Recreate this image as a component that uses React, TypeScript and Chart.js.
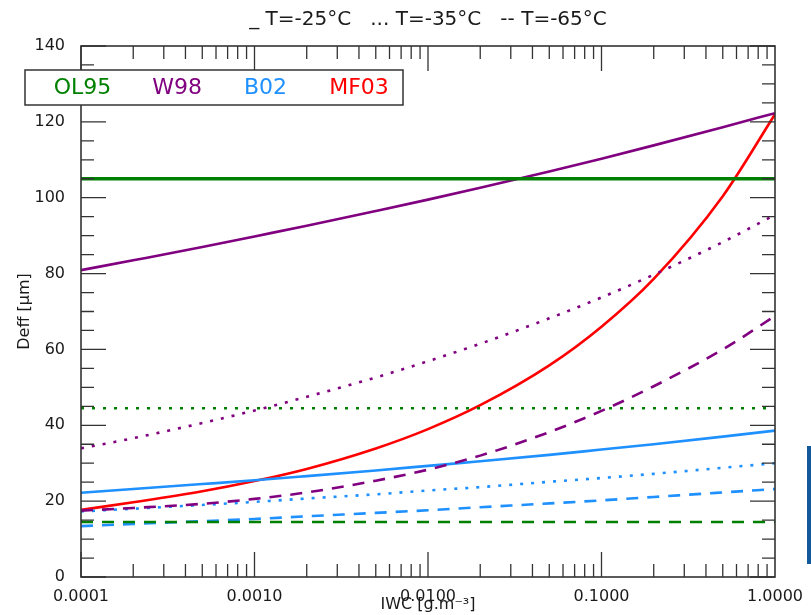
import React, { useEffect, useRef } from "react";
import { Chart, registerables } from "chart.js";

Chart.register(...registerables);

// ---------- data ----------
const IWC = [0.0001, 0.0002, 0.0005, 0.001, 0.002, 0.005, 0.01, 0.02, 0.05, 0.1, 0.2, 0.5, 1];
const IWC_ENDS = [0.0001, 1];

const OL95_T25 = [105, 105];
const OL95_T35 = [44.5, 44.5];
const OL95_T65 = [14.5, 14.5];
const W98_T25 = [80.9, 83.5, 87.0, 89.8, 92.6, 96.5, 99.5, 102.6, 106.9, 110.3, 113.8, 118.6, 122.3];
const W98_T35 = [33.9, 36.6, 40.6, 43.9, 47.5, 52.6, 56.9, 61.5, 68.2, 73.7, 79.7, 88.3, 95.5];
const W98_T65 = [17.5, 18.2, 19.3, 20.6, 22.3, 25.4, 28.3, 32.0, 38.2, 43.8, 50.3, 60.0, 68.8];
const B02_T25 = [22.2, 23.2, 24.5, 25.5, 26.6, 28.1, 29.3, 30.5, 32.2, 33.6, 35.0, 37.0, 38.6];
const B02_T35 = [17.3, 18.0, 19.0, 19.8, 20.7, 21.8, 22.8, 23.7, 25.1, 26.1, 27.2, 28.8, 30.0];
const B02_T65 = [13.4, 14.0, 14.7, 15.3, 16.0, 16.9, 17.6, 18.4, 19.4, 20.2, 21.1, 22.3, 23.2];
const MF03_T25 = [17.7, 19.7, 22.6, 25.3, 28.5, 33.9, 39.0, 45.3, 55.8, 66.0, 78.6, 100.4, 122.0];

const LEGEND_LABELS = ["OL95", "W98", "B02", "MF03"];
const LEGEND_COLORS = ["#008000", "#800080", "#1E90FF", "#FF0000"];

const TITLE = "_ T=-25°C   ... T=-35°C   -- T=-65°C";
const X_TITLE = "IWC [g.m⁻³]";
const Y_TITLE = "Deff [μm]";
const X_TICKS = [0.0001, 0.001, 0.01, 0.1, 1];
const Y_MIN = 0;
const Y_MAX = 140;
const Y_MAJOR = 20;
const Y_MINOR = 5;

// ---------- styles ----------
const FONT = "DejaVu Sans";
const AXIS_COLOR = "#333333";
const TEXT_COLOR = "#1a1a1a";
const DOTTED = [3, 8];
const DASHED = [12, 9];

const pts = (xs: number[], ys: number[]) => xs.map((x, i) => ({ x, y: ys[i] }));

const frameAndLegend = {
  id: "frameAndLegend",
  afterDatasetsDraw(chart: any) {
    const { ctx, chartArea, scales } = chart;
    const { left, right, top, bottom } = chartArea;
    const xs = scales.x;
    const ys = scales.y;
    ctx.save();
    ctx.strokeStyle = AXIS_COLOR;
    ctx.lineWidth = 1.3;
    ctx.beginPath();
    for (let v = Y_MIN; v <= Y_MAX; v += Y_MINOR) {
      const py = ys.getPixelForValue(v);
      const len = v % Y_MAJOR === 0 ? 25 : 13;
      ctx.moveTo(left, py);
      ctx.lineTo(left + len, py);
      ctx.moveTo(right, py);
      ctx.lineTo(right - len, py);
    }
    for (let d = 0; d < X_TICKS.length - 1; d++) {
      for (let m = 1; m <= 9; m++) {
        const v = X_TICKS[d] * m;
        const px = xs.getPixelForValue(v);
        const len = m === 1 ? 25 : 13;
        ctx.moveTo(px, bottom);
        ctx.lineTo(px, bottom - len);
        ctx.moveTo(px, top);
        ctx.lineTo(px, top + len);
      }
    }
    ctx.stroke();
    ctx.lineWidth = 1.6;
    ctx.strokeRect(left, top, right - left, bottom - top);
    ctx.restore();
  },
  afterDraw(chart: any) {
    const { ctx } = chart;
    const bx = 25, by = 70, bw = 378, bh = 35;
    const centers = [82.5, 177, 265.5, 359];
    ctx.save();
    ctx.fillStyle = "#ffffff";
    ctx.fillRect(bx, by, bw, bh);
    ctx.strokeStyle = AXIS_COLOR;
    ctx.lineWidth = 1.5;
    ctx.strokeRect(bx, by, bw, bh);
    ctx.font = `22px "${FONT}"`;
    ctx.textAlign = "center";
    ctx.textBaseline = "middle";
    LEGEND_LABELS.forEach((lab, i) => {
      ctx.fillStyle = LEGEND_COLORS[i];
      ctx.fillText(lab, centers[i], by + bh / 2 + 1);
    });
    ctx.restore();
  },
};

export default function App() {
  const ref = useRef<HTMLCanvasElement | null>(null);

  useEffect(() => {
    if (!ref.current) return;
    const [cOL, cW, cB, cMF] = LEGEND_COLORS;
    const line = (label: string, data: any[], color: string, dash: number[], width = 2.6) => ({
      label,
      data,
      borderColor: color,
      backgroundColor: color,
      borderWidth: width,
      borderDash: dash,
      borderCapStyle: "butt",
      pointRadius: 0,
      fill: false,
      cubicInterpolationMode: "monotone",
    });
    const chart = new Chart(ref.current, {
      type: "line",
      data: {
        datasets: [
          line("OL95 T=-25°C", pts(IWC_ENDS, OL95_T25), cOL, [], 3.6),
          line("OL95 T=-35°C", pts(IWC_ENDS, OL95_T35), cOL, DOTTED),
          line("OL95 T=-65°C", pts(IWC_ENDS, OL95_T65), cOL, DASHED),
          line("W98 T=-25°C", pts(IWC, W98_T25), cW, []),
          line("W98 T=-35°C", pts(IWC, W98_T35), cW, DOTTED),
          line("W98 T=-65°C", pts(IWC, W98_T65), cW, DASHED),
          line("B02 T=-25°C", pts(IWC, B02_T25), cB, []),
          line("B02 T=-35°C", pts(IWC, B02_T35), cB, DOTTED),
          line("B02 T=-65°C", pts(IWC, B02_T65), cB, DASHED),
          line("MF03 T=-25°C", pts(IWC, MF03_T25), cMF, []),
        ] as any,
      },
      options: {
        animation: false,
        responsive: false,
        devicePixelRatio: 1,
        layout: { padding: { left: 0, right: 36, top: 0, bottom: 0 } },
        plugins: {
          legend: { display: false },
          tooltip: { enabled: false },
          title: {
            display: true,
            text: TITLE,
            fullSize: false,
            color: TEXT_COLOR,
            font: { family: FONT, size: 20, weight: "normal" },
            padding: { top: 8, bottom: 14 },
          },
        },
        scales: {
          x: {
            type: "logarithmic",
            min: X_TICKS[0],
            max: X_TICKS[X_TICKS.length - 1],
            grid: { display: false },
            border: { display: false },
            afterBuildTicks: (s: any) => {
              s.ticks = X_TICKS.map((v) => ({ value: v }));
            },
            afterFit: (s: any) => {
              s.height = 38;
            },
            ticks: {
              autoSkip: false,
              maxRotation: 0,
              padding: 2,
              color: TEXT_COLOR,
              font: { family: FONT, size: 16 },
              callback: (v: any) => Number(v).toFixed(4),
            },
            title: {
              display: true,
              text: X_TITLE,
              color: TEXT_COLOR,
              font: { family: FONT, size: 16 },
              padding: { top: 0, bottom: 1 },
            },
          },
          y: {
            type: "linear",
            min: Y_MIN,
            max: Y_MAX,
            grid: { display: false },
            border: { display: false },
            afterFit: (s: any) => {
              s.width = 81;
            },
            ticks: {
              stepSize: Y_MAJOR,
              padding: 8,
              color: TEXT_COLOR,
              font: { family: FONT, size: 16 },
            },
            title: {
              display: true,
              text: Y_TITLE,
              color: TEXT_COLOR,
              font: { family: FONT, size: 16 },
              padding: { top: 15, bottom: 0 },
            },
          },
        },
      } as any,
      plugins: [frameAndLegend],
    });
    return () => chart.destroy();
  }, []);

  return (
    <div style={{ position: "fixed", left: 0, top: 0, width: 811, height: 615, background: "#fff" }}>
      <canvas ref={ref} width={811} height={615} style={{ display: "block" }} />
      <div style={{ position: "absolute", left: 807, top: 446, width: 4, height: 118, background: "#12599c" }} />
    </div>
  );
}
